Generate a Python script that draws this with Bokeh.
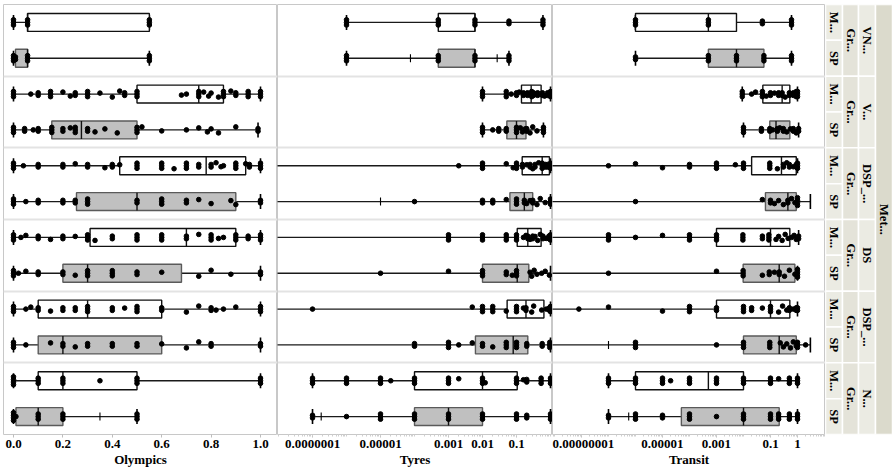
import math
from bokeh.plotting import figure
from bokeh.layouts import row
from bokeh.models import Range1d, FixedTicker, CustomJSTickFormatter
from bokeh.embed import file_html
from bokeh.resources import INLINE
from bokeh.core.properties import value

# ---------------- categories ----------------
GROUPS = ["VN...", "V...", "DSP_...", "DS", "DSP_...", "N..."]
SUBGROUPS = ["M...", "SP"]
GROUP_TITLE = "Gr..."
OUTER_TITLE = "Met..."

# ---------------- Olympics (linear) ----------------
OLY_LO = [0.0, 0.0, 0.0, 0.0, 0.0, 0.0, 0.0, 0.0, 0.0, 0.0, 0.0, 0.0]
OLY_Q1 = [0.057, 0.008, 0.5, 0.155, 0.43, 0.255, 0.31, 0.2, 0.1, 0.1, 0.1, 0.01]
OLY_MED = [0.057, 0.057, 0.75, 0.275, 0.78, 0.5, 0.7, 0.3, 0.3, 0.2, 0.2, 0.1]
OLY_Q3 = [0.55, 0.057, 0.85, 0.5, 0.94, 0.9, 0.9, 0.68, 0.6, 0.6, 0.5, 0.2]
OLY_HI = [0.55, 0.55, 1.0, 0.99, 1.0, 1.0, 1.0, 1.0, 1.0, 1.0, 1.0, 0.5]
OLY_PTS = [
    [0, 0, 0, 0.057, 0.057, 0.057, 0.55, 0.55, 0.55],
    [0, 0, 0, 0.008, 0.008, 0.057, 0.057, 0.057, 0.55, 0.55, 0.55],
    [0, 0, 0, 0.07, 0.1, 0.1, 0.15, 0.15, 0.15, 0.2, 0.23, 0.25, 0.25, 0.3, 0.3, 0.3, 0.35, 0.4, 0.43,
     0.45, 0.45, 0.5, 0.5, 0.5, 0.68, 0.7, 0.75, 0.75, 0.75, 0.77, 0.79, 0.8, 0.83, 0.85, 0.85, 0.85,
     0.88, 0.9, 0.9, 0.95, 0.95, 0.95, 1.0, 1.0, 1.0],
    [0, 0, 0, 0.045, 0.045, 0.08, 0.1, 0.1, 0.155, 0.155, 0.155, 0.2, 0.2, 0.23, 0.25, 0.25, 0.25,
     0.3, 0.3, 0.33, 0.37, 0.42, 0.5, 0.5, 0.5, 0.52, 0.6, 0.7, 0.75, 0.785, 0.8, 0.83, 0.9, 0.99, 0.99],
    [0, 0, 0, 0.04, 0.1, 0.1, 0.2, 0.2, 0.25, 0.3, 0.3, 0.37, 0.4, 0.4, 0.43, 0.5, 0.5, 0.5, 0.6, 0.6,
     0.6, 0.65, 0.7, 0.7, 0.7, 0.75, 0.75, 0.8, 0.8, 0.82, 0.84, 0.85, 0.9, 0.9, 0.9, 0.94, 0.955,
     0.955, 1.0, 1.0, 1.0],
    [0, 0, 0, 0.05, 0.1, 0.1, 0.2, 0.2, 0.25, 0.25, 0.3, 0.3, 0.3, 0.5, 0.5, 0.6, 0.6, 0.6, 0.7, 0.7,
     0.75, 0.8, 0.88, 0.9, 1.0, 1.0],
    [0, 0, 0, 0.03, 0.05, 0.1, 0.1, 0.15, 0.2, 0.2, 0.25, 0.3, 0.3, 0.3, 0.33, 0.4, 0.4, 0.5, 0.5, 0.5,
     0.6, 0.6, 0.6, 0.7, 0.7, 0.75, 0.8, 0.8, 0.8, 0.83, 0.85, 0.9, 0.9, 0.9, 0.95, 0.95, 1.0, 1.0, 1.0],
    [0, 0, 0, 0.02, 0.05, 0.1, 0.1, 0.2, 0.2, 0.25, 0.3, 0.3, 0.3, 0.4, 0.4, 0.4, 0.5, 0.5, 0.6, 0.75,
     0.8, 0.88, 1.0, 1.0],
    [0, 0, 0, 0.05, 0.07, 0.1, 0.1, 0.15, 0.2, 0.2, 0.25, 0.25, 0.3, 0.3, 0.3, 0.4, 0.4, 0.45, 0.5, 0.5,
     0.5, 0.6, 0.6, 0.7, 0.75, 0.8, 0.8, 0.82, 0.85, 0.9, 1.0, 1.0, 1.0],
    [0, 0, 0, 0.05, 0.15, 0.2, 0.2, 0.25, 0.3, 0.3, 0.4, 0.4, 0.5, 0.5, 0.6, 0.7, 0.75, 0.8, 0.8, 1.0, 1.0],
    [0, 0, 0, 0, 0.1, 0.1, 0.1, 0.2, 0.2, 0.2, 0.35, 0.5, 0.5, 0.5, 1.0, 1.0, 1.0],
    [0, 0, 0, 0, 0.01, 0.1, 0.1, 0.1, 0.2, 0.2, 0.2, 0.5, 0.5, 0.5],
]
OLY_MARKS = [[], [], [], [], [], [], [], [], [], [], [], [0.35]]
OLY_TICKS = [0.0, 0.2, 0.4, 0.6, 0.8, 1.0]
OLY_TICK_LABELS = ["0.0", "0.2", "0.4", "0.6", "0.8", "1.0"]

# ---------------- Tyres (log) ----------------
TYR_LO = [1e-6, 1e-6, 0.01, 0.01, 1e-10, 1e-10, 1e-10, 1e-10, 1e-10, 1e-10, 1e-7, 1e-7]
TYR_Q1 = [5e-4, 5e-4, 0.14, 0.052, 0.147, 0.064, 0.105, 0.01, 0.053, 0.0062, 1e-4, 1e-4]
TYR_MED = [6e-3, 6e-3, 0.27, 0.1, 0.57, 0.17, 0.215, 0.105, 0.19, 0.08, 0.01, 0.001]
TYR_Q3 = [6e-3, 6e-3, 0.53, 0.19, 0.93, 0.3, 0.53, 0.23, 0.64, 0.215, 0.105, 0.01]
TYR_HI = [0.6, 0.06, 1.0, 0.62, 1.0, 1.0, 1.0, 1.0, 1.0, 1.0, 1.0, 1.0]
TYR_PTS = [
    [1e-6, 1e-6, 1e-6, 5e-4, 5e-4, 5e-4, 6e-3, 6e-3, 6e-3, 0.06, 0.06, 0.6, 0.6, 0.6],
    [1e-6, 1e-6, 1e-6, 5e-4, 5e-4, 5e-4, 6e-3, 6e-3, 6e-3, 0.06, 0.06, 0.06],
    [0.01, 0.01, 0.01, 0.05, 0.05, 0.05, 0.07, 0.1, 0.1, 0.12, 0.16, 0.16, 0.21, 0.21, 0.28, 0.28, 0.28,
     0.32, 0.32, 0.42, 0.42, 0.58, 0.58, 0.67, 0.82, 0.82, 0.93, 0.93, 1.0, 1.0, 1.0],
    [0.01, 0.01, 0.01, 0.02, 0.03, 0.03, 0.05, 0.05, 0.1, 0.1, 0.1, 0.13, 0.15, 0.18, 0.2, 0.2, 0.25,
     0.3, 0.4, 0.62, 0.62, 0.62],
    [0.002, 0.01, 0.01, 0.01, 0.05, 0.08, 0.1, 0.1, 0.1, 0.15, 0.15, 0.2, 0.25, 0.25, 0.3, 0.35, 0.35,
     0.45, 0.57, 0.57, 0.57, 0.7, 0.7, 0.8, 0.8, 0.93, 0.93, 1.0, 1.0, 1.0],
    [1e-4, 0.01, 0.01, 0.02, 0.02, 0.05, 0.1, 0.1, 0.1, 0.17, 0.17, 0.2, 0.25, 0.3, 0.3, 0.4, 0.5, 0.7,
     1.0, 1.0, 1.0],
    [0.001, 0.001, 0.001, 0.01, 0.01, 0.01, 0.05, 0.05, 0.05, 0.1, 0.1, 0.1, 0.16, 0.19, 0.215, 0.215,
     0.25, 0.3, 0.3, 0.35, 0.42, 0.5, 0.6, 0.6, 0.75, 0.9, 0.9, 1.0, 1.0, 1.0],
    [1e-5, 0.001, 0.01, 0.01, 0.01, 0.05, 0.05, 0.075, 0.1, 0.1, 0.1, 0.25, 0.28, 0.33, 0.4, 0.55,
     0.7, 0.93],
    [1e-7, 0.005, 0.01, 0.01, 0.01, 0.02, 0.02, 0.02, 0.05, 0.1, 0.1, 0.1, 0.16, 0.19, 0.19, 0.28,
     0.32, 0.55, 0.75, 0.93, 0.93, 1.0, 1.0, 1.0],
    [1e-4, 1e-4, 0.001, 0.001, 0.001, 0.002, 0.005, 0.01, 0.01, 0.02, 0.05, 0.05, 0.05, 0.1, 0.1, 0.1,
     0.2, 0.2, 0.57, 0.57, 0.95, 0.95, 0.95, 1.0],
    [1e-7, 1e-7, 1e-7, 1e-6, 1e-6, 1e-6, 1e-5, 1e-5, 1e-5, 2e-5, 1e-4, 1e-4, 1e-4, 0.001, 0.001,
     0.001, 0.002, 0.01, 0.01, 0.01, 0.012, 0.1, 0.1, 0.1, 0.16, 0.2, 0.2, 0.53, 0.53, 0.53,
     1.0, 1.0, 1.0],
    [1e-7, 1e-7, 1e-6, 1e-5, 1e-5, 1e-5, 1e-4, 1e-4, 1e-4, 0.001, 0.001, 0.001, 0.01, 0.01, 0.01,
     0.1, 0.1, 0.1, 0.2, 0.2, 1.0, 1.0, 1.0],
]
TYR_MARKS = [[], [7.6e-5, 0.027], [], [], [], [1e-5], [], [], [], [], [], [1.8e-7]]
TYR_TICKS = [1e-7, 1e-5, 1e-3, 1e-2, 1e-1]
TYR_TICK_LABELS = ["0.0000001", "0.00001", "0.001", "0.01", "0.1"]

# ---------------- Transit (log) ----------------
TRN_LO = [1e-6, 1e-6, 0.009, 0.01, 1e-10, 1e-10, 1e-10, 1e-10, 1e-10, 1e-10, 1e-7, 1e-7]
TRN_Q1 = [1e-6, 5e-4, 0.052, 0.094, 0.02, 0.065, 0.001, 0.0097, 0.001, 0.01, 1e-6, 5e-5]
TRN_MED = [5e-4, 5.5e-3, 0.27, 0.16, 0.255, 0.44, 0.1, 0.21, 0.1, 0.21, 5e-4, 0.01]
TRN_Q3 = [5.5e-3, 0.057, 0.52, 0.52, 0.9, 0.9, 0.52, 0.8, 0.52, 0.9, 0.01, 0.21]
TRN_HI = [0.6, 0.6, 1.0, 1.1, 1.0, 3.0, 1.1, 1.0, 1.0, 3.0, 1.0, 1.0]
TRN_PTS = [
    [1e-6, 1e-6, 1e-6, 5e-4, 5e-4, 5e-4, 0.05, 0.05, 0.6, 0.6, 0.6],
    [1e-6, 1e-6, 5e-4, 5e-4, 5e-4, 5.5e-3, 5.5e-3, 5.5e-3, 0.057, 0.057, 0.057, 0.6, 0.6, 0.6],
    [0.009, 0.009, 0.009, 0.02, 0.028, 0.05, 0.05, 0.05, 0.07, 0.1, 0.1, 0.14, 0.2, 0.2, 0.27, 0.27,
     0.35, 0.5, 0.5, 0.7, 0.7, 0.9, 0.9, 0.9, 1.0, 1.0, 1.0],
    [0.01, 0.01, 0.01, 0.046, 0.046, 0.094, 0.094, 0.12, 0.18, 0.18, 0.22, 0.3, 0.3, 0.4, 0.55, 0.7,
     0.7, 0.9, 1.1, 1.1],
    [1e-7, 1e-6, 1e-5, 1e-4, 1e-4, 0.001, 0.001, 0.001, 0.005, 0.01, 0.01, 0.01, 0.094, 0.094, 0.094,
     0.18, 0.3, 0.3, 0.4, 0.5, 0.5, 0.7, 0.9, 0.9, 1.0, 1.0, 1.0],
    [1e-6, 0.05, 0.1, 0.1, 0.14, 0.2, 0.3, 0.44, 0.44, 0.6, 0.8, 1.0, 1.0, 1.0, 1.0],
    [1e-7, 1e-7, 1e-7, 1e-6, 1e-5, 1e-4, 1e-4, 1e-4, 0.001, 0.001, 0.001, 0.0095, 0.0095, 0.0095,
     0.05, 0.05, 0.087, 0.087, 0.087, 0.16, 0.2, 0.27, 0.35, 0.45, 0.6, 0.75, 0.9, 1.1, 1.1],
    [1e-7, 0.001, 0.0097, 0.0097, 0.0097, 0.05, 0.09, 0.09, 0.14, 0.21, 0.21, 0.33, 0.5, 0.8,
     1.0, 1.0, 1.0, 1.0],
    [8e-9, 1e-7, 1e-5, 1e-4, 1e-4, 1e-4, 0.001, 0.001, 0.01, 0.01, 0.01, 0.02, 0.02, 0.05, 0.1, 0.1,
     0.1, 0.2, 0.28, 0.4, 0.5, 0.5, 0.7, 0.9, 0.9, 1.0, 1.0],
    [1e-6, 1e-6, 1e-6, 0.001, 0.01, 0.01, 0.01, 0.094, 0.094, 0.094, 0.23, 0.3, 0.4, 0.55, 0.7, 0.9,
     1.0, 1.0, 1.0, 2.0],
    [1e-7, 1e-7, 1e-7, 1e-6, 1e-6, 1e-6, 1e-5, 1e-5, 1e-5, 2e-5, 1e-4, 1e-4, 1e-4, 0.001, 0.001,
     0.001, 0.01, 0.01, 0.01, 0.1, 0.1, 0.1, 0.2, 0.5, 0.5, 0.5, 1.0, 1.0, 1.0],
    [1e-7, 1e-7, 1e-6, 1e-6, 1e-6, 1e-5, 1e-5, 1e-4, 1e-4, 1e-4, 0.001, 0.01, 0.01, 0.01, 0.1, 0.1,
     0.1, 0.2, 0.2, 0.2, 0.5, 0.5, 0.5, 1.0, 1.0, 1.0],
]
TRN_MARKS = [[], [], [], [], [], [], [], [], [], [1e-7], [], [5.6e-7]]
TRN_TICKS = [1e-8, 1e-5, 1e-3, 1e-1, 1.0]
TRN_TICK_LABELS = ["0.00000001", "0.00001", "0.001", "0.1", "1"]

# ---------------- layout constants ----------------
N_ROWS = 12
FRAME_H = 430
TOP = 4
BOTTOM = 36
ROW_PX = FRAME_H / N_ROWS
FONT = "Liberation Serif"


def row_y(r):
    return N_ROWS - 0.5 - r


def jitter(vals, y):
    counts = {}
    for v in vals:
        counts[v] = counts.get(v, 0) + 1
    seen = {}
    pattern = [0.0, 2.0, -2.0, 1.0, -3.0, 3.0, -1.0]
    si = 0
    xs, ys = [], []
    for v in vals:
        n = counts[v]
        k = seen.get(v, 0)
        seen[v] = k + 1
        if n == 1:
            off = pattern[si % len(pattern)]
            si += 1
        else:
            off = (k - (n - 1) / 2.0) * 2.6
        xs.append(v)
        ys.append(y + off / ROW_PX)
    return xs, ys


def tick_formatter(ticks, labels):
    return CustomJSTickFormatter(args=dict(vals=ticks, labs=labels), code="""
        for (let i = 0; i < vals.length; i++) {
            const v = vals[i];
            if (Math.abs(tick - v) <= 1e-6 * Math.abs(v) + 1e-12) { return labs[i]; }
        }
        return "";
    """)


def build_panel(title, width, x_range, axis_type, ticks, labels, minor, lo, q1, med, q3, hi,
                pts, marks, left_border=0):
    p = figure(width=width, height=TOP + FRAME_H + BOTTOM, x_range=x_range,
               y_range=Range1d(0, N_ROWS), x_axis_type=axis_type,
               output_backend="svg", toolbar_location=None,
               min_border_left=left_border, min_border_right=0,
               min_border_top=TOP, min_border_bottom=BOTTOM)
    p.yaxis.visible = False
    p.xgrid.visible = False
    p.ygrid.ticker = FixedTicker(ticks=[2, 4, 6, 8, 10])
    p.ygrid.grid_line_color = "#e3e3e3"
    p.ygrid.grid_line_width = 2
    p.outline_line_color = "#c8c8c8"
    p.background_fill_color = "white"
    p.border_fill_color = "white"

    ys = [row_y(r) for r in range(N_ROWS)]
    fills = ["#ffffff" if r % 2 == 0 else "#c0c0c0" for r in range(N_ROWS)]
    edges = ["#111111" if r % 2 == 0 else "#5a5a5a" for r in range(N_ROWS)]

    # whiskers
    p.segment(x0=lo, y0=ys, x1=hi, y1=ys, line_color="#1a1a1a", line_width=1.4)
    # whisker ends
    p.scatter(x=lo + hi, y=ys + ys, marker="dash", angle=math.pi / 2, size=15,
              line_color="black", line_width=1.6)
    # boxes
    p.hbar(y=ys, left=q1, right=q3, height=0.5, fill_color=fills, line_color=edges, line_width=1.4)
    # medians
    p.segment(x0=med, y0=[y - 0.25 for y in ys], x1=med, y1=[y + 0.25 for y in ys],
              line_color="#111111", line_width=1.4)
    # points
    px, py = [], []
    for r in range(N_ROWS):
        xs_, ys_ = jitter(pts[r], ys[r])
        px += xs_
        py += ys_
    p.scatter(x=px, y=py, size=4.6, fill_color="black", line_color="black")
    # small tick marks
    mx, my = [], []
    for r in range(N_ROWS):
        for v in marks[r]:
            mx.append(v)
            my.append(ys[r])
    if mx:
        p.scatter(x=mx, y=my, marker="dash", angle=math.pi / 2, size=8,
                  line_color="black", line_width=1.1)

    ax = p.xaxis[0]
    ax.ticker = FixedTicker(ticks=ticks, minor_ticks=minor)
    ax.formatter = tick_formatter(ticks, labels)
    ax.axis_line_color = None
    ax.major_tick_line_color = "#bdbdbd"
    ax.major_tick_in = 0
    ax.major_tick_out = 3
    ax.minor_tick_line_color = "#cfcfcf"
    ax.minor_tick_in = 0
    ax.minor_tick_out = 2
    ax.major_label_standoff = 2
    ax.major_label_text_font = FONT
    ax.major_label_text_font_style = "bold"
    ax.major_label_text_font_size = "13px"
    ax.major_label_text_color = "black"
    ax.axis_label = title
    ax.axis_label_standoff = 1
    ax.axis_label_text_font = FONT
    ax.axis_label_text_font_style = "bold"
    ax.axis_label_text_font_size = "13px"
    ax.axis_label_text_color = "black"
    return p


def log_minor(d0, d1):
    out = []
    for d in range(d0, d1 + 1):
        for k in range(1, 10):
            out.append(k * 10.0 ** d)
    return out


p1 = build_panel("Olympics", 277, Range1d(-0.0405, 1.0688), "linear", OLY_TICKS, OLY_TICK_LABELS, [],
                 OLY_LO, OLY_Q1, OLY_MED, OLY_Q3, OLY_HI, OLY_PTS, OLY_MARKS, left_border=3)
p2 = build_panel("Tyres", 275, Range1d(10 ** -8.03, 10 ** 0.0588), "log", TYR_TICKS, TYR_TICK_LABELS,
                 log_minor(-9, 0), TYR_LO, TYR_Q1, TYR_MED, TYR_Q3, TYR_HI, TYR_PTS, TYR_MARKS)
p3 = build_panel("Transit", 273, Range1d(10 ** -9.074, 10 ** 1.037), "log", TRN_TICKS, TRN_TICK_LABELS,
                 log_minor(-10, 1), TRN_LO, TRN_Q1, TRN_MED, TRN_Q3, TRN_HI, TRN_PTS, TRN_MARKS)

# ---------------- strip labels ----------------
SW = 67
p4 = figure(width=SW, height=TOP + FRAME_H + BOTTOM, x_range=Range1d(0, SW), y_range=Range1d(0, N_ROWS),
            output_backend="svg", toolbar_location=None,
            min_border_left=0, min_border_right=0, min_border_top=TOP, min_border_bottom=BOTTOM)
p4.xaxis.visible = False
p4.yaxis.visible = False
p4.grid.visible = False
p4.outline_line_color = None
p4.border_fill_color = "white"
p4.background_fill_color = "white"

c1 = (0, 17)
c2 = (17, 33)
c3 = (33, 50)
c4 = (50, SW)

# inner level cells
p4.quad(left=[c1[0]] * N_ROWS, right=[c1[1]] * N_ROWS,
        bottom=[N_ROWS - 1 - r for r in range(N_ROWS)], top=[N_ROWS - r for r in range(N_ROWS)],
        fill_color="#ebebe3", line_color="white", line_width=1.5)
ng = len(GROUPS)
p4.quad(left=[c2[0]] * ng, right=[c2[1]] * ng,
        bottom=[N_ROWS - 2 - 2 * g for g in range(ng)], top=[N_ROWS - 2 * g for g in range(ng)],
        fill_color="#e4e3d9", line_color="white", line_width=1.5)
p4.quad(left=[c3[0]] * ng, right=[c3[1]] * ng,
        bottom=[N_ROWS - 2 - 2 * g for g in range(ng)], top=[N_ROWS - 2 * g for g in range(ng)],
        fill_color="#ebebe3", line_color="white", line_width=1.5)
p4.quad(left=[c4[0]], right=[c4[1]], bottom=[0], top=[N_ROWS],
        fill_color="#dbdacc", line_color="white", line_width=1.5)

txt = dict(angle=-math.pi / 2, text_align="center", text_baseline="middle",
           text_font=value(FONT), text_font_style="bold", text_font_size="12.5px", text_color="black")
p4.text(x=[(c1[0] + c1[1]) / 2] * N_ROWS, y=[row_y(r) for r in range(N_ROWS)],
        text=[SUBGROUPS[r % 2] for r in range(N_ROWS)], **txt)
p4.text(x=[(c2[0] + c2[1]) / 2] * ng, y=[N_ROWS - 1 - 2 * g for g in range(ng)],
        text=[GROUP_TITLE] * ng, **txt)
p4.text(x=[(c3[0] + c3[1]) / 2] * ng, y=[N_ROWS - 1 - 2 * g for g in range(ng)],
        text=GROUPS, **txt)
p4.text(x=[(c4[0] + c4[1]) / 2], y=[N_ROWS / 2], text=[OUTER_TITLE], **txt)

layout = row(p1, p2, p3, p4, spacing=0)
open("out.html", "w").write(file_html(layout, INLINE))
